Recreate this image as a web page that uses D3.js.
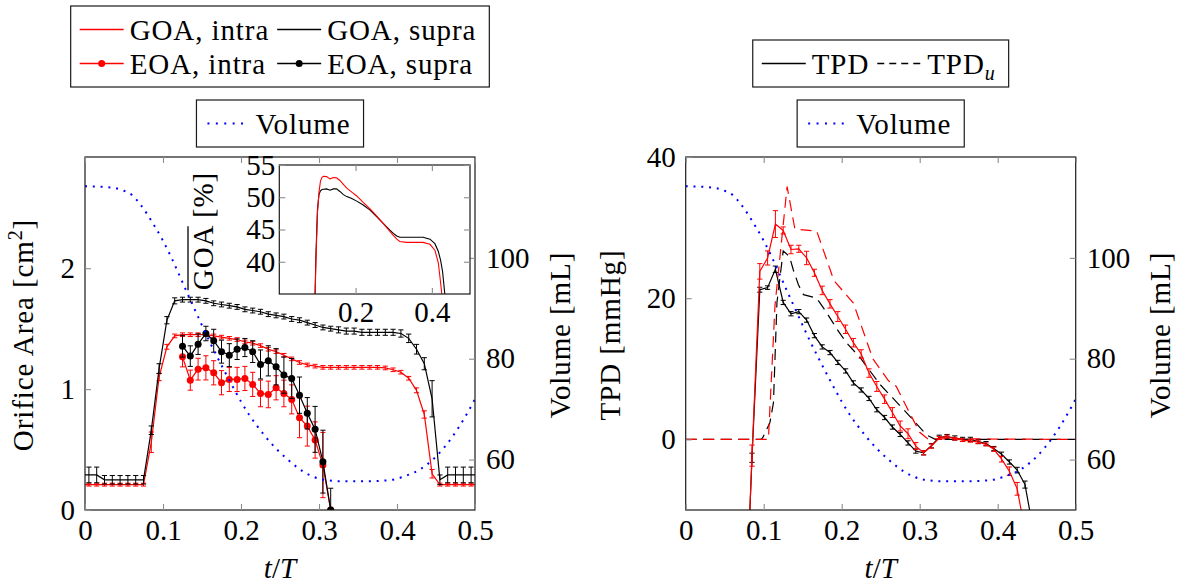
<!DOCTYPE html>
<html lang="en">
<head>
<meta charset="UTF-8">
<title>Orifice area and TPD</title>
<script src="https://cdnjs.cloudflare.com/ajax/libs/d3/7.8.5/d3.min.js"></script>
<style>
  body { margin: 0; background: #fff; }
  svg text { font-family: "Liberation Serif", "Times New Roman", serif; font-size: 29px; fill: #000; }
  svg text.wide { letter-spacing: 0.9px; }
</style>
</head>
<body>
<svg id="chart" width="1186" height="588"></svg>
<script>
// ---- data ----
var goaT = [-0.005, 0.005, 0.015, 0.025, 0.035, 0.045, 0.055, 0.065, 0.075, 0.085, 0.095, 0.105, 0.115, 0.125, 0.135, 0.145, 0.155, 0.165, 0.175, 0.185, 0.195, 0.205, 0.215, 0.225, 0.235, 0.245, 0.255, 0.265, 0.275, 0.285, 0.295, 0.305, 0.315, 0.325, 0.335, 0.345, 0.355, 0.365, 0.375, 0.385, 0.395, 0.405, 0.415, 0.425, 0.435, 0.445, 0.455, 0.465, 0.475, 0.485, 0.495, 0.505];
var goaSupra = [0.29, 0.29, 0.29, 0.25, 0.25, 0.25, 0.25, 0.25, 0.25, 0.66, 1.17, 1.57, 1.73, 1.74, 1.74, 1.74, 1.73, 1.71, 1.70, 1.69, 1.68, 1.66, 1.65, 1.64, 1.62, 1.61, 1.60, 1.58, 1.57, 1.55, 1.53, 1.51, 1.50, 1.49, 1.48, 1.48, 1.47, 1.47, 1.47, 1.47, 1.47, 1.46, 1.42, 1.33, 1.21, 0.92, 0.25, 0.29, 0.29, 0.29, 0.29, 0.29];
var goaSupraErr = [0.065, 0.065, 0.065, 0.035, 0.035, 0.035, 0.035, 0.035, 0.035, 0.035, 0.04, 0.03, 0.025, 0.02, 0.02, 0.02, 0.02, 0.02, 0.02, 0.02, 0.02, 0.02, 0.02, 0.02, 0.02, 0.02, 0.02, 0.02, 0.02, 0.02, 0.02, 0.02, 0.02, 0.025, 0.025, 0.025, 0.025, 0.025, 0.025, 0.025, 0.025, 0.03, 0.035, 0.04, 0.05, 0.15, 0.04, 0.065, 0.065, 0.065, 0.065, 0.065];
var goaIntra = [0.21, 0.21, 0.21, 0.21, 0.21, 0.21, 0.21, 0.21, 0.21, 0.56, 1.10, 1.35, 1.44, 1.45, 1.45, 1.45, 1.45, 1.44, 1.43, 1.42, 1.41, 1.39, 1.38, 1.36, 1.33, 1.31, 1.28, 1.25, 1.22, 1.20, 1.19, 1.18, 1.18, 1.18, 1.18, 1.18, 1.18, 1.18, 1.18, 1.175, 1.16, 1.14, 1.09, 0.99, 0.79, 0.30, 0.21, 0.21, 0.21, 0.21, 0.21, 0.21];
var goaIntraErr = [0.012, 0.012, 0.012, 0.012, 0.012, 0.012, 0.012, 0.012, 0.012, 0.085, 0.03, 0.02, 0.015, 0.015, 0.015, 0.015, 0.015, 0.015, 0.015, 0.015, 0.015, 0.015, 0.015, 0.015, 0.015, 0.015, 0.015, 0.015, 0.015, 0.015, 0.015, 0.015, 0.015, 0.015, 0.015, 0.015, 0.015, 0.015, 0.015, 0.015, 0.015, 0.015, 0.015, 0.02, 0.03, 0.035, 0.012, 0.012, 0.012, 0.012, 0.012, 0.012];

var eoaT = [0.125, 0.135, 0.145, 0.155, 0.165, 0.175, 0.185, 0.195, 0.205, 0.215, 0.225, 0.235, 0.245, 0.255, 0.265, 0.275, 0.285, 0.295, 0.305, 0.315];
var eoaSupra = [1.355, 1.273, 1.372, 1.46, 1.40, 1.31, 1.281, 1.33, 1.344, 1.31, 1.204, 1.234, 1.185, 1.116, 1.088, 0.95, 0.80, 0.667, 0.40, 0.0];
var eoaSupraErr = [0.09, 0.085, 0.085, 0.06, 0.095, 0.095, 0.095, 0.085, 0.075, 0.09, 0.12, 0.125, 0.15, 0.15, 0.165, 0.15, 0.13, 0.19, 0.26, 0.18];
var eoaIntra = [1.267, 1.074, 1.165, 1.176, 1.135, 1.053, 1.080, 1.080, 1.088, 1.039, 0.964, 0.956, 1.011, 0.964, 0.915, 0.763, 0.694, 0.579, 0.372, 0.0];
var eoaIntraErr = [0.083, 0.083, 0.09, 0.1, 0.1, 0.1, 0.1, 0.1, 0.1, 0.1, 0.11, 0.11, 0.1, 0.11, 0.12, 0.165, 0.165, 0.15, 0.27, 0.0];

// inset: normalised GOA [%]
var insetT = [0.092, 0.096, 0.100, 0.104, 0.108, 0.112, 0.116, 0.124, 0.133, 0.142, 0.150, 0.159, 0.168, 0.177, 0.190, 0.203, 0.220, 0.238, 0.255, 0.273, 0.290, 0.299, 0.308, 0.316, 0.334, 0.360, 0.377, 0.395, 0.408, 0.417, 0.423, 0.428, 0.434];
var insetIntra = [30, 40, 47.5, 50.8, 52.5, 53.1, 53.25, 53.2, 52.85, 53.05, 53.0, 52.6, 52.0, 51.4, 50.8, 50.2, 49.2, 48.2, 47.1, 45.9, 44.7, 44.1, 43.5, 43.15, 43.0, 43.0, 43.0, 42.7, 41.8, 39.8, 36.7, 33.9, 30];
var insetSupra = [30, 41, 48, 50.4, 51.0, 51.2, 51.25, 51.3, 51.1, 51.3, 51.3, 50.9, 50.4, 50.1, 49.8, 49.4, 48.8, 48.0, 47.0, 45.9, 44.9, 44.4, 44.0, 43.8, 43.8, 43.8, 43.8, 43.5, 42.8, 41.6, 40.2, 38.5, 35.0];

// transvalvular pressure drop [mmHg]
var tpdT = [0.075, 0.085, 0.095, 0.105, 0.115, 0.125, 0.135, 0.145, 0.155, 0.165, 0.175, 0.185, 0.195, 0.205, 0.215, 0.225, 0.235, 0.245, 0.255, 0.265, 0.275, 0.285, 0.295, 0.305, 0.315, 0.325, 0.335, 0.345, 0.355, 0.365, 0.375, 0.385, 0.395, 0.405, 0.415, 0.425, 0.435, 0.445];
var tpdSupra = [-30, -2.6, 21.2, 21.5, 24.1, 19.4, 17.8, 18.1, 16.9, 14.7, 13.1, 12.3, 10.9, 9.7, 8.0, 7.0, 5.8, 4.2, 3.1, 1.75, 0.7, -0.5, -1.65, -1.9, -0.9, 0.3, 0.4, 0.2, 0.0, 0.0, -0.3, -0.6, -1.3, -2.1, -3.2, -4.35, -6.4, -12.5];
var tpdSupraErr = [0, 0.65, 0.35, 0.25, 0.45, 0.3, 0.3, 0.3, 0.3, 0.3, 0.3, 0.3, 0.3, 0.3, 0.3, 0.3, 0.3, 0.3, 0.3, 0.3, 0.3, 0.3, 0.3, 0.3, 0.3, 0.3, 0.3, 0.3, 0.3, 0.3, 0.3, 0.3, 0.3, 0.3, 0.3, 0.4, 0.5, 0.5];
var tpdIntra = [-30, -2.3, 23.8, 25.7, 30.5, 29.6, 26.9, 27.0, 25.7, 23.6, 21.1, 19.2, 17.4, 15.6, 13.7, 12.1, 9.4, 7.5, 5.7, 3.8, 1.9, 0.8, -0.95, -1.9, -0.95, 0.2, 0.4, 0.1, -0.1, -0.2, -0.4, -0.7, -1.4, -2.8, -4.5, -7.0, -13.0, -20.0];
var tpdIntraErr = [0, 1.5, 1.1, 1.0, 1.9, 0.5, 0.6, 0.5, 0.95, 0.5, 0.6, 0.6, 0.7, 0.6, 0.6, 0.6, 0.6, 0.7, 0.6, 0.7, 0.7, 0.7, 0.5, 0.3, 0.3, 0.2, 0.2, 0.2, 0.2, 0.2, 0.2, 0.2, 0.3, 0.4, 0.6, 0.9, 1.0, 1.0];

var tpduIntraT = [0, 0.106, 0.1145, 0.13, 0.14, 0.168, 0.19, 0.215, 0.24, 0.26, 0.27, 0.285, 0.30, 0.31, 0.5];
var tpduIntra = [0, 0, 19.0, 35.8, 29.8, 29.5, 22.5, 19.3, 11.4, 8.3, 7.5, 4.2, 1.0, 0.1, 0];
var tpduSupraT = [0, 0.097, 0.0995, 0.108, 0.1125, 0.117, 0.125, 0.133, 0.138, 0.1445, 0.151, 0.168, 0.181, 0.194, 0.206, 0.2235, 0.249, 0.266, 0.283, 0.296, 0.309, 0.32, 0.5];
var tpduSupra = [0, 0, 0.4, 2.4, 5.2, 19.4, 26.7, 25.9, 24.0, 21.9, 20.5, 20.0, 17.9, 15.6, 13.7, 11.6, 7.8, 5.8, 3.8, 2.2, 0.6, 0, 0];

// ventricular volume [mL]
var volT = [0, 0.03, 0.05, 0.06, 0.07, 0.08, 0.09, 0.10, 0.11, 0.12, 0.13, 0.14, 0.15, 0.16, 0.17, 0.18, 0.19, 0.20, 0.21, 0.22, 0.23, 0.24, 0.25, 0.26, 0.27, 0.28, 0.29, 0.30, 0.31, 0.33, 0.36, 0.39, 0.40, 0.41, 0.42, 0.43, 0.44, 0.45, 0.46, 0.47, 0.48, 0.49, 0.50];
var volume = [114.2, 114.0, 113.3, 112.5, 110.8, 108.6, 106.1, 103.4, 100.3, 96.9, 93.4, 90.0, 86.6, 83.3, 80.2, 77.2, 74.3, 71.5, 69.0, 66.8, 64.8, 63.0, 61.4, 60.0, 58.7, 57.6, 56.8, 56.2, 55.9, 55.7, 55.7, 55.9, 56.2, 56.7, 57.3, 58.1, 59.2, 60.6, 62.3, 64.3, 66.6, 69.2, 72.0];

var xTicks = [0, 0.1, 0.2, 0.3, 0.4, 0.5];

// ---- layout ----
var svg = d3.select('#chart');
var RED = '#ff0000', BLUE = '#0000ff';
var top0 = 157, bot0 = 510;

var xL = d3.scaleLinear().domain([0, 0.5]).range([85, 475]);
var xR = d3.scaleLinear().domain([0, 0.5]).range([685.7, 1075.7]);
var yArea = d3.scaleLinear().domain([0, 2.92]).range([bot0, top0]);
var yVol = d3.scaleLinear().domain([50, 120]).range([bot0, top0]);
var yTpd = d3.scaleLinear().domain([-10, 40]).range([bot0, top0]);
var xI = d3.scaleLinear().domain([0, 0.5]).range([279.3, 470]);
var yI = d3.scaleLinear().domain([35, 55]).range([294, 165]);

var fmt = function(d) { return d === 0 ? '0' : String(d); };

function addClip(id, x, y) {
    svg.append('clipPath').attr('id', id).append('rect')
        .attr('x', x.range()[0]).attr('y', y.range()[1])
        .attr('width', x.range()[1] - x.range()[0])
        .attr('height', y.range()[0] - y.range()[1]);
    return svg.append('g').attr('clip-path', 'url(#' + id + ')');
}

function tickAxis(axis, tx, ty) {
    var a = svg.append('g').attr('transform', 'translate(' + tx + ',' + ty + ')').call(axis);
    a.select('.domain').remove();
    a.selectAll('.tick line').attr('stroke', '#8c8c8c').attr('stroke-width', 1.1);
    return a;
}

function frame(x, y) {
    svg.append('rect')
        .attr('x', x.range()[0]).attr('y', y.range()[1])
        .attr('width', x.range()[1] - x.range()[0])
        .attr('height', y.range()[0] - y.range()[1])
        .attr('fill', 'none').attr('stroke', '#1a1a1a').attr('stroke-width', 1.2);
}

function series(g, x, y, ts, vs, es, color, opts) {
    opts = opts || {};
    var pts = ts.map(function(t, i) { return { t: t, v: vs[i], e: es ? es[i] : 0 }; });
    g.append('path').datum(pts)
        .attr('d', d3.line().x(function(d) { return x(d.t); }).y(function(d) { return y(d.v); }))
        .attr('fill', 'none').attr('stroke', color)
        .attr('stroke-width', opts.width || 1.2)
        .attr('stroke-dasharray', opts.dash || null);
    if (es) {
        var c = 2.6;
        g.append('g').selectAll('path').data(pts).enter().append('path')
            .attr('d', function(d) {
                var px = x(d.t), a = y(d.v + d.e), b = y(d.v - d.e);
                return 'M' + (px - c) + ',' + a + 'H' + (px + c) + 'M' + px + ',' + a + 'V' + b +
                    'M' + (px - c) + ',' + b + 'H' + (px + c);
            })
            .attr('fill', 'none').attr('stroke', color).attr('stroke-width', 1);
    }
    if (opts.marker) {
        g.append('g').selectAll('circle').data(pts).enter().append('circle')
            .attr('cx', function(d) { return x(d.t); })
            .attr('cy', function(d) { return y(d.v); })
            .attr('r', 3.5).attr('fill', color);
    }
}

function volumeCurve(g, x) {
    var pts = volT.map(function(t, i) { return [t, volume[i]]; });
    g.append('path').datum(pts)
        .attr('d', d3.line().curve(d3.curveMonotoneX).x(function(d) { return x(d[0]); }).y(function(d) { return yVol(d[1]); }))
        .attr('fill', 'none').attr('stroke', BLUE).attr('stroke-width', 2)
        .attr('stroke-dasharray', '2,5.8');
}

function xLabel(cx) {
    var t = svg.append('text').attr('x', cx).attr('y', 578).attr('text-anchor', 'middle');
    t.append('tspan').attr('font-style', 'italic').text('t');
    t.append('tspan').text('/');
    t.append('tspan').attr('font-style', 'italic').text('T');
}

function yLabel(x, y) {
    return svg.append('text').attr('class', 'wide')
        .attr('transform', 'translate(' + x + ',' + y + ') rotate(-90)')
        .attr('text-anchor', 'middle');
}

function axesFor(x, yLeft, leftTicks, rightTicks) {
    var x0 = x.range()[0], x1 = x.range()[1];
    tickAxis(d3.axisBottom(x).tickValues(xTicks).tickFormat(fmt).tickSizeInner(-6).tickSizeOuter(0).tickPadding(9), 0, bot0);
    tickAxis(d3.axisTop(x).tickValues(xTicks).tickFormat('').tickSizeInner(-6).tickSizeOuter(0), 0, top0);
    tickAxis(d3.axisLeft(yLeft).tickValues(leftTicks).tickFormat(fmt).tickSizeInner(-6).tickSizeOuter(0).tickPadding(10), x0, 0);
    tickAxis(d3.axisRight(yVol).tickValues(rightTicks).tickSizeInner(-6).tickSizeOuter(0).tickPadding(11), x1, 0);
}

// ---- legends ----
function legend(cx, bottom, cols, entries) {
    var g = svg.append('g');
    var box = g.append('rect').attr('fill', '#fff').attr('stroke', '#1a1a1a').attr('stroke-width', 1.2);
    entries.forEach(function(en) {
        en.g = g.append('g');
        var s = en.g.append('line').attr('x1', 0).attr('x2', 44).attr('y1', 0).attr('y2', 0)
            .attr('stroke', en.color).attr('stroke-width', en.dash === 'dot' ? 2 : 1.3);
        if (en.dash === 'dot') s.attr('stroke-dasharray', '2,6.4').attr('x1', 2);
        else if (en.dash) s.attr('stroke-dasharray', en.dash);
        if (en.marker) en.g.append('circle').attr('cx', 22).attr('cy', 0).attr('r', 3.5).attr('fill', en.color);
        var t = en.g.append('text').attr('class', 'wide').attr('x', 50).attr('y', 10);
        en.label(t);
        en.w = 50 + t.node().getComputedTextLength();
    });
    var nrows = Math.ceil(entries.length / cols), colW = [];
    entries.forEach(function(en, i) {
        var c = i % cols;
        colW[c] = Math.max(colW[c] || 0, en.w);
    });
    var width = 9 + d3.sum(colW) + 8 * (cols - 1) + 13;
    var height = nrows * 34 + 13;
    var left = cx - width / 2, top = bottom - height;
    box.attr('x', left).attr('y', top).attr('width', width).attr('height', height);
    entries.forEach(function(en, i) {
        var c = i % cols, r = Math.floor(i / cols);
        var ex = left + 9 + d3.sum(colW.slice(0, c)) + 8 * c;
        en.g.attr('transform', 'translate(' + ex + ',' + (top + 6.5 + 17 + r * 34) + ')');
    });
}

function plain(s) { return function(t) { t.text(s); }; }

// ---- left panel: orifice area ----
var gL = addClip('clipL', xL, yArea);
series(gL, xL, yArea, goaT, goaIntra, goaIntraErr, RED);
series(gL, xL, yArea, goaT, goaSupra, goaSupraErr, '#000');
series(gL, xL, yArea, eoaT, eoaIntra, eoaIntraErr, RED, { marker: true });
series(gL, xL, yArea, eoaT, eoaSupra, eoaSupraErr, '#000', { marker: true });
volumeCurve(gL, xL);
frame(xL, yArea);
axesFor(xL, yArea, [0, 1, 2], [60, 80, 100]);

// inset
svg.append('rect').attr('x', 279.3).attr('y', 165).attr('width', 470 - 279.3).attr('height', 294 - 165).attr('fill', '#fff');
var gI = addClip('clipI', xI, yI);
series(gI, xI, yI, insetT, insetSupra, null, '#000', { width: 1.1 });
series(gI, xI, yI, insetT, insetIntra, null, RED, { width: 1.1 });
frame(xI, yI);
tickAxis(d3.axisBottom(xI).tickValues([0.2, 0.4]).tickFormat(fmt).tickSizeInner(-6).tickSizeOuter(0).tickPadding(7), 0, 294);
tickAxis(d3.axisTop(xI).tickValues([0.2, 0.4]).tickFormat('').tickSizeInner(-6).tickSizeOuter(0), 0, 165);
tickAxis(d3.axisLeft(yI).tickValues([40, 45, 50, 55]).tickFormat(fmt).tickSizeInner(-6).tickSizeOuter(0).tickPadding(4), 279.3, 0);
tickAxis(d3.axisRight(yI).tickValues([40, 45, 50, 55]).tickFormat('').tickSizeInner(-6).tickSizeOuter(0), 470, 0);

var il = yLabel(213, 231);
il.append('tspan').text('GOA');
il.append('tspan').text(' [%]');
var ilLen = il.node().getComputedTextLength();
var goaLen = il.node().getSubStringLength(0, 3);
svg.append('line')
    .attr('transform', 'translate(213,231) rotate(-90)')
    .attr('x1', -ilLen / 2).attr('x2', -ilLen / 2 + goaLen)
    .attr('y1', -25).attr('y2', -25)
    .attr('stroke', '#000').attr('stroke-width', 1.3);

var al = yLabel(33, 335);
al.append('tspan').text('Orifice Area [cm');
al.append('tspan').attr('font-size', 20).attr('dy', -11).text('2');
al.append('tspan').attr('dy', 11).text(']');
yLabel(570, 335).text('Volume [mL]');
xLabel(280);

legend(280, 87, 2, [
    { color: RED, label: plain('GOA, intra') },
    { color: '#000', label: plain('GOA, supra') },
    { color: RED, marker: true, label: plain('EOA, intra') },
    { color: '#000', marker: true, label: plain('EOA, supra') }
]);
legend(280, 147, 1, [{ color: BLUE, dash: 'dot', label: plain('Volume') }]);

// ---- right panel: pressure drop ----
var gR = addClip('clipR', xR, yTpd);
series(gR, xR, yTpd, tpdT, tpdSupra, tpdSupraErr, '#000');
series(gR, xR, yTpd, tpduSupraT, tpduSupra, null, '#000', { dash: '11,6.5' });
series(gR, xR, yTpd, tpdT, tpdIntra, tpdIntraErr, RED);
series(gR, xR, yTpd, tpduIntraT, tpduIntra, null, RED, { dash: '11,6.5' });
volumeCurve(gR, xR);
frame(xR, yTpd);
axesFor(xR, yTpd, [0, 20, 40], [60, 80, 100]);

yLabel(620, 335).text('TPD [mmHg]');
yLabel(1170, 335).text('Volume [mL]');
xLabel(880.7);

legend(880.7, 87, 2, [
    { color: '#000', label: plain('TPD') },
    { color: '#000', dash: '7,5', label: function(t) {
        t.append('tspan').text('TPD');
        t.append('tspan').attr('font-size', 20).attr('font-style', 'italic').attr('dy', 6).text('u');
    } }
]);
legend(880.7, 147, 1, [{ color: BLUE, dash: 'dot', label: plain('Volume') }]);
</script>
</body>
</html>
